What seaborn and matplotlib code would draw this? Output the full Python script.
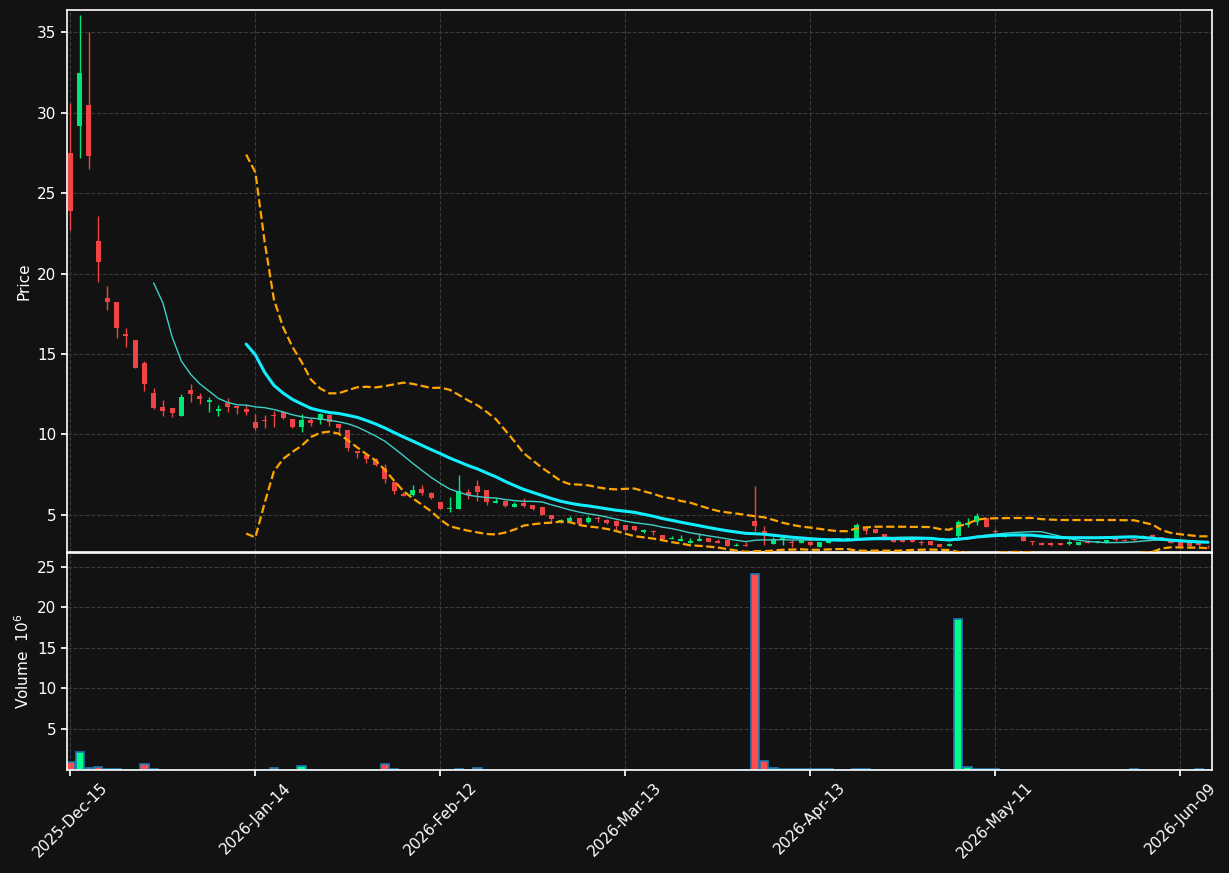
import numpy as np
import pandas as pd
import seaborn as sns
import matplotlib.pyplot as plt

# daily OHLC (trading days from 2025-12-15)
opens = [27.5, 29.2, 30.5, 22.0, 18.5, 18.2, 16.25, 15.85, 14.45, 12.55,
         11.7, 11.6, 11.13, 12.75, 12.35, 12.0, 11.45, 11.92, 11.74, 11.55,
         10.74, 10.87, 11.2, 11.4, 10.93, 10.45, 10.9, 10.9, 11.18, 10.66,
         10.24, 8.93, 8.68, 8.47, 7.91, 7.0, 6.25, 6.2, 6.56, 6.37,
         5.81, 5.33, 5.33, 6.43, 6.75, 6.5, 5.7, 5.87, 5.5, 5.75,
         5.6, 5.44, 4.98, 4.61, 4.61, 4.77, 4.52, 4.77, 4.67, 4.63,
         4.38, 4.29, 3.89, 3.95, 3.72, 3.47, 3.36, 3.24, 3.36, 3.53,
         3.36, 3.43, 3.07, 3.11, 4.6, 4.0, 3.17, 3.43, 3.28, 3.24,
         3.28, 2.98, 3.24, 3.45, 3.49, 3.51, 4.2, 4.12, 3.78, 3.49,
         3.45, 3.49, 3.30, 3.34, 3.15, 3.05, 3.65, 4.37, 4.54, 4.77,
         3.95, 3.61, 3.75, 3.68, 3.33, 3.26, 3.26, 3.22, 3.18, 3.11,
         3.28, 3.28, 3.24, 3.53, 3.43, 3.48, 3.55, 3.72, 3.58, 3.49,
         3.28, 3.28, 3.22, 3.06]
highs = [30.6, 36.1, 35.0, 23.6, 19.2, 18.2, 16.6, 15.85, 14.55, 12.9,
         12.1, 11.6, 12.53, 13.15, 12.55, 12.3, 11.8, 12.28, 11.74, 11.82,
         11.28, 11.22, 11.45, 11.45, 10.95, 11.28, 11.0, 11.35, 11.25, 10.66,
         10.24, 8.93, 8.7, 8.5, 8.12, 7.0, 6.4, 6.85, 6.85, 6.43,
         5.81, 6.1, 7.48, 6.6, 7.12, 6.5, 6.0, 5.9, 5.8, 6.04,
         5.6, 5.45, 4.98, 4.72, 4.88, 4.8, 4.88, 4.94, 4.7, 4.65,
         4.38, 4.31, 4.10, 4.02, 3.72, 3.68, 3.72, 3.55, 3.83, 3.55,
         3.47, 3.43, 3.26, 3.28, 6.75, 4.3, 3.59, 3.64, 3.41, 3.43,
         3.34, 3.29, 3.43, 3.53, 3.54, 4.45, 4.21, 4.12, 3.79, 3.51,
         3.51, 3.50, 3.39, 3.35, 3.15, 3.21, 4.64, 4.77, 5.08, 4.79,
         4.13, 3.93, 3.77, 3.68, 3.35, 3.28, 3.27, 3.25, 3.41, 3.31,
         3.41, 3.35, 3.43, 3.55, 3.45, 3.53, 3.71, 3.78, 3.61, 3.50,
         3.29, 3.29, 3.33, 3.13]
lows = [22.7, 27.2, 26.5, 19.5, 17.7, 16.0, 15.4, 14.1, 12.7, 11.55,
        11.15, 11.05, 11.13, 12.0, 11.9, 11.4, 11.13, 11.4, 11.28, 11.2,
        10.24, 10.38, 10.45, 10.95, 10.4, 10.15, 10.5, 10.66, 10.53, 10.1,
        8.95, 8.55, 8.2, 8.0, 6.97, 6.3, 6.14, 6.14, 6.24, 5.98,
        5.35, 5.14, 5.33, 5.98, 5.87, 5.6, 5.7, 5.46, 5.46, 5.46,
        5.3, 4.97, 4.63, 4.46, 4.55, 4.4, 4.46, 4.52, 4.42, 4.06,
        4.0, 3.97, 3.87, 3.75, 3.44, 3.47, 3.36, 3.24, 3.36, 3.29,
        3.22, 3.04, 3.03, 3.06, 3.95, 3.1, 3.17, 3.13, 2.95, 3.24,
        3.07, 2.98, 3.21, 3.43, 3.47, 3.49, 3.76, 3.87, 3.46, 3.29,
        3.28, 3.29, 3.11, 3.11, 2.97, 3.05, 3.57, 4.20, 4.33, 4.23,
        3.83, 3.61, 3.71, 3.36, 3.08, 3.11, 3.06, 3.09, 3.11, 3.11,
        3.20, 3.25, 3.23, 3.33, 3.33, 3.33, 3.53, 3.58, 3.51, 3.23,
        3.01, 3.01, 3.06, 2.93]
closes = [23.9, 32.5, 27.3, 20.7, 18.2, 16.6, 16.1, 14.1, 13.1, 11.6,
          11.45, 11.3, 12.32, 12.5, 12.2, 12.1, 11.57, 11.67, 11.62, 11.36,
          10.38, 10.8, 11.15, 11.0, 10.45, 10.86, 10.7, 11.24, 10.76, 10.38,
          9.14, 8.82, 8.43, 8.1, 7.2, 6.45, 6.15, 6.5, 6.33, 6.0,
          5.37, 5.39, 6.45, 6.23, 6.39, 5.77, 5.87, 5.56, 5.67, 5.54,
          5.33, 5.0, 4.71, 4.69, 4.77, 4.42, 4.77, 4.71, 4.48, 4.27,
          4.06, 4.04, 4.01, 3.92, 3.47, 3.57, 3.49, 3.36, 3.49, 3.30,
          3.24, 3.05, 3.13, 3.07, 4.3, 3.83, 3.45, 3.51, 3.22, 3.41,
          3.09, 3.28, 3.41, 3.49, 3.51, 4.35, 3.97, 3.87, 3.47, 3.30,
          3.30, 3.30, 3.25, 3.11, 2.98, 3.15, 4.54, 4.45, 4.90, 4.24,
          3.93, 3.78, 3.73, 3.37, 3.28, 3.11, 3.11, 3.11, 3.28, 3.30,
          3.23, 3.33, 3.41, 3.41, 3.38, 3.43, 3.65, 3.58, 3.53, 3.24,
          3.03, 3.03, 3.08, 3.02]
# volume in millions of shares
volumes = [0.92, 2.15, 0.17, 0.3, 0.05, 0.05, 0.0, 0.0, 0.66, 0.05,
           0.0, 0.0, 0.0, 0.0, 0.0, 0.0, 0.0, 0.0, 0.0, 0.0,
           0.0, 0.0, 0.17, 0.0, 0.0, 0.5, 0.0, 0.0, 0.0, 0.0,
           0.0, 0.0, 0.0, 0.0, 0.66, 0.05, 0.0, 0.0, 0.0, 0.0,
           0.0, 0.0, 0.1, 0.0, 0.16, 0.0, 0.0, 0.0, 0.0, 0.0,
           0.0, 0.0, 0.0, 0.0, 0.0, 0.0, 0.0, 0.0, 0.0, 0.0,
           0.0, 0.0, 0.0, 0.0, 0.0, 0.0, 0.0, 0.0, 0.0, 0.0,
           0.0, 0.0, 0.0, 0.0, 24.1, 1.03, 0.17, 0.05, 0.05, 0.05,
           0.05, 0.05, 0.05, 0.0, 0.0, 0.05, 0.05, 0.0, 0.0, 0.0,
           0.0, 0.0, 0.0, 0.0, 0.0, 0.0, 18.57, 0.29, 0.05, 0.05,
           0.05, 0.0, 0.0, 0.0, 0.0, 0.0, 0.0, 0.0, 0.0, 0.0,
           0.0, 0.0, 0.0, 0.0, 0.0, 0.05, 0.0, 0.0, 0.0, 0.0,
           0.0, 0.0, 0.05, 0.0]
holidays = ['2025-12-25', '2026-01-01', '2026-01-19', '2026-02-16',
            '2026-04-03', '2026-05-25']

BG = '#121212'
UP, DOWN = '#00e676', '#f04444'
VUP, VDOWN = '#00ff88', '#ff4c4c'

sns.set_theme(style='darkgrid', rc={
    'figure.facecolor': BG, 'axes.facecolor': BG, 'axes.edgecolor': 'white',
    'axes.linewidth': 1.2, 'grid.color': '#3a3a3a', 'grid.linestyle': '--',
    'grid.linewidth': 0.8, 'text.color': 'white', 'axes.labelcolor': 'white',
    'xtick.color': 'white', 'ytick.color': 'white', 'xtick.bottom': True,
    'ytick.left': True, 'xtick.major.size': 4, 'ytick.major.size': 4,
})
plt.rcParams['font.family'] = ['DejaVu Sans']

dates = pd.bdate_range('2025-12-15', periods=len(closes), freq='C', holidays=holidays)
df = pd.DataFrame({'idx': np.arange(len(closes)), 'open': opens, 'high': highs,
                   'low': lows, 'close': closes, 'volume': volumes}, index=dates)
df['ma10'] = df['close'].rolling(10).mean()
df['ma20'] = df['close'].rolling(20).mean()
std20 = df['close'].rolling(20).std(ddof=0)
df['upper'] = df['ma20'] + 2 * std20
df['lower'] = df['ma20'] - 2 * std20

fig = plt.figure(figsize=(12.29, 8.73), dpi=100)
ax = fig.add_axes([0.0543, 0.3677, 0.9321, 0.6205])
axv = fig.add_axes([0.0543, 0.1184, 0.9321, 0.2478], sharex=ax)

up = df['close'] >= df['open']
ccol = np.where(up, UP, DOWN)
vcol = np.where(up, VUP, VDOWN)

# candles
ax.vlines(df['idx'], df['low'], df['high'], colors=ccol, linewidth=1.0, zorder=2)
body = (df['close'] - df['open']).abs().clip(lower=0.03)
ax.bar(df['idx'], body, bottom=df[['open', 'close']].min(axis=1), width=0.55,
       color=ccol, linewidth=0, zorder=3)

# moving averages and bollinger bands
sns.lineplot(data=df, x='idx', y='ma10', ax=ax, color='#3fcfc6', linewidth=1.0, zorder=4)
sns.lineplot(data=df, x='idx', y='ma20', ax=ax, color='#10eeff', linewidth=2.2, zorder=4)
sns.lineplot(data=df, x='idx', y='upper', ax=ax, color='#ffa500', linewidth=1.6,
             linestyle='--', zorder=4)
sns.lineplot(data=df, x='idx', y='lower', ax=ax, color='#ffa500', linewidth=1.6,
             linestyle='--', zorder=4)

# volume
axv.bar(df['idx'], df['volume'], width=0.9, color=vcol, edgecolor='#1f77b4',
        linewidth=1.2, zorder=2)

ax.set_xlim(-0.4, len(closes) - 0.54)
ax.set_ylim(2.67, 36.38)
ax.set_yticks([5, 10, 15, 20, 25, 30, 35])
axv.set_ylim(0, 26.65)
axv.set_yticks([5, 10, 15, 20, 25])

ticks = list(range(0, len(closes), 20))
axv.set_xticks(ticks)
axv.set_xticklabels([dates[i].strftime('%Y-%b-%d') for i in ticks], rotation=45,
                    fontsize=11)
ax.tick_params(axis='x', labelbottom=False, length=0)
ax.tick_params(axis='y', labelsize=11)
axv.tick_params(axis='y', labelsize=11)

ax.set_xlabel('')
axv.set_xlabel('')
ax.set_ylabel('Price', fontsize=11)
axv.set_ylabel('Volume  $10^6$', fontsize=11)

for a in (ax, axv):
    a.grid(True, color='#3a3a3a', linestyle='--', linewidth=0.8)
    for s in a.spines.values():
        s.set_visible(True)
        s.set_color('white')

fig.savefig('out.png', dpi=100, facecolor=BG)
